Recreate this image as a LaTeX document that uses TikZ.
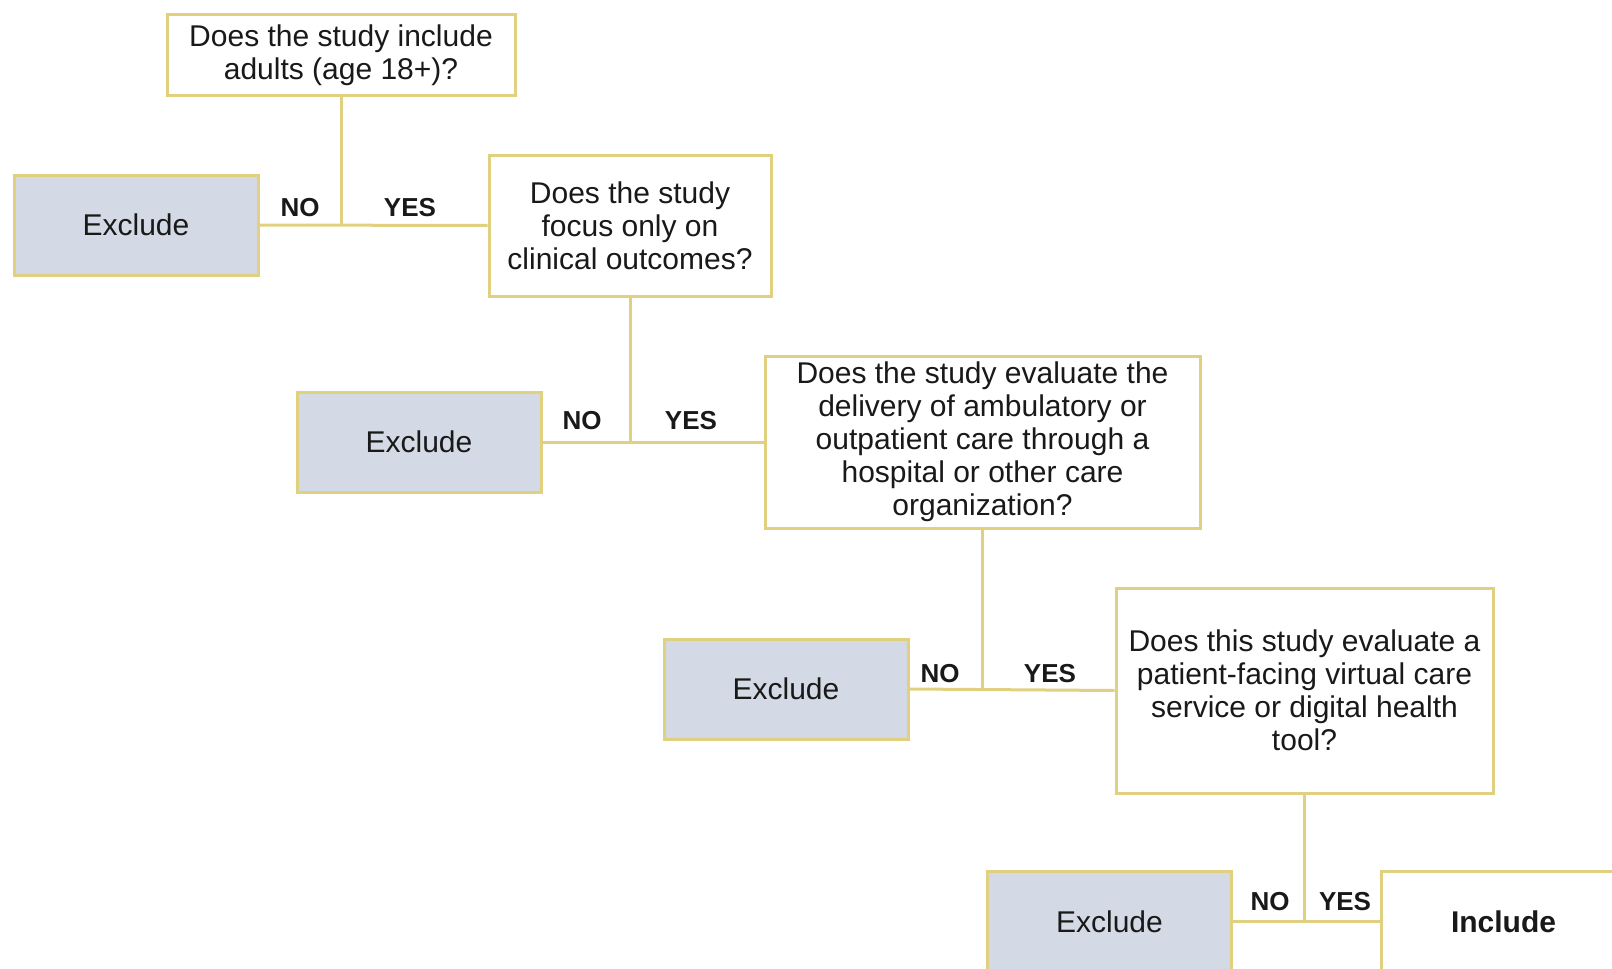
\documentclass[tikz,border=0pt]{standalone}
\usepackage{fontspec}
\setmainfont{Liberation Sans}
\definecolor{lineC}{RGB}{224,208,128}
\definecolor{exfill}{RGB}{212,218,229}
\definecolor{txt}{RGB}{25,25,25}
\begin{document}
\begin{tikzpicture}[x=1pt,y=-1pt,
  qbox/.style={draw=lineC, line width=3pt, fill=white, text=txt, align=center, inner sep=0pt,
    font=\fontsize{30}{33}\selectfont},
  exbox/.style={draw=lineC, line width=3pt, fill=exfill, text=txt, align=center, inner sep=0pt,
    minimum width=244pt, minimum height=100pt, font=\fontsize{30}{33}\selectfont},
  incbox/.style={draw=lineC, line width=3pt, fill=white, text=txt, align=center, inner sep=0pt,
    minimum width=245pt, minimum height=101pt, font=\bfseries\fontsize{30}{33}\selectfont},
  conn/.style={draw=lineC, line width=3pt},
  lab/.style={text=txt, inner sep=0pt, font=\bfseries\fontsize{26}{29}\selectfont}
]
\useasboundingbox (0,0) rectangle (1612,969);
\clip (0,0) rectangle (1612,969);
\fill[white] (0,0) rectangle (1612,969);

\node[qbox, minimum width=348pt, minimum height=81pt] (q1) at (341,55)
  {Does the study include\\adults (age 18+)?};
\node[exbox] (e1) at (136,225) {Exclude};
\node[qbox, minimum width=282pt, minimum height=141pt] (q2) at (630,225.5)
  {Does the study\\focus only on\\clinical outcomes?};
\node[exbox] (e2) at (419,442) {Exclude};
\node[qbox, minimum width=435pt, minimum height=172pt] (q3) at (982.5,442)
  {Does the study evaluate the\\delivery of ambulatory or\\outpatient care through a\\hospital or other care\\organization?};
\node[exbox] (e3) at (786,689) {Exclude};
\node[qbox, minimum width=377pt, minimum height=205pt] (q4) at (1304.5,690.5)
  {Does this study evaluate a\\patient-facing virtual care\\service or digital health\\tool?};
\node[exbox, minimum height=101pt] (e4) at (1109.5,921.5) {Exclude};
\node[incbox] (inc) at (1503.5,921.5) {Include};

% connectors
\coordinate (j1) at (q1.south |- e1.east);
\draw[conn] (q1.south) -- (j1);
\draw[conn] (e1.east) -- (q2.west);
\coordinate (j2) at (q2.south |- e2.east);
\draw[conn] (q2.south) -- (j2);
\draw[conn] (e2.east) -- (q3.west);
\coordinate (j3) at (q3.south |- e3.east);
\draw[conn] (q3.south) -- (j3);
\draw[conn] (e3.east) -- (q4.west);
\coordinate (j4) at (q4.south |- e4.east);
\draw[conn] (q4.south) -- (j4);
\draw[conn] (e4.east) -- (inc.west);

% labels
\node[lab] (n1) at (300,208) {NO};
\node[lab] (y1) at (410,208) {YES};
\node[lab] (n2) at (582,421) {NO};
\node[lab] (y2) at (691,421) {YES};
\node[lab] (n3) at (940,674) {NO};
\node[lab] (y3) at (1050,674) {YES};
\node[lab] (n4) at (1270,902) {NO};
\node[lab] (y4) at (1345,902) {YES};
\end{tikzpicture}
\end{document}
